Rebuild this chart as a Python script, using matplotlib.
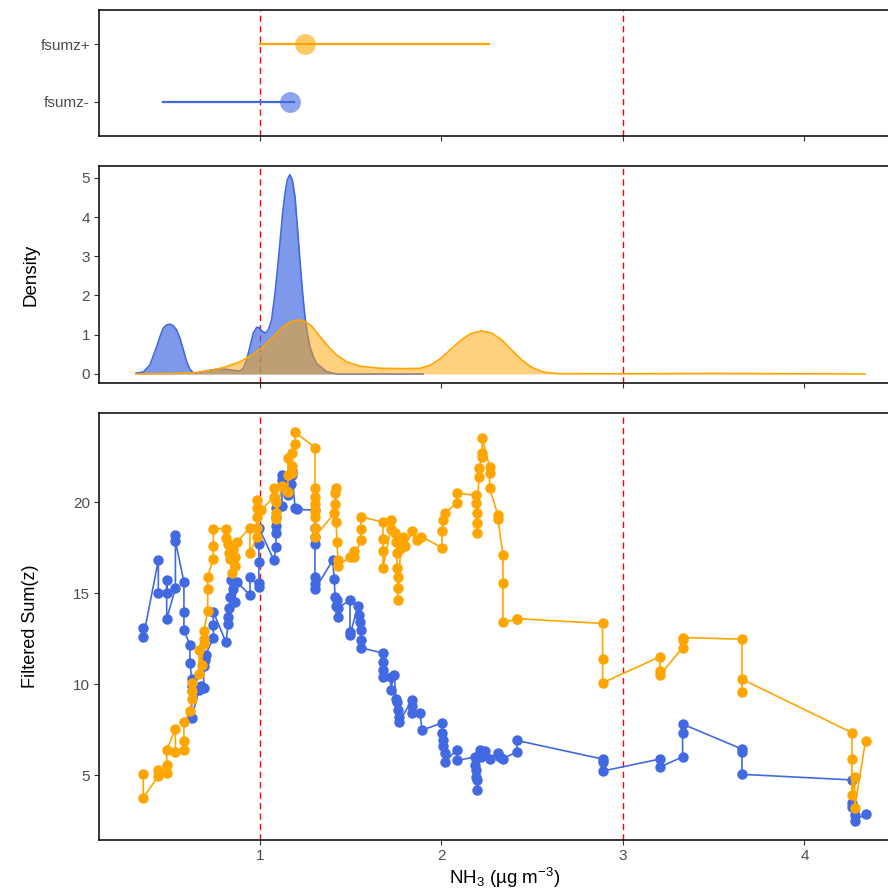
import matplotlib
matplotlib.use("Agg")
import matplotlib.pyplot as plt

plt.rcParams['font.family'] = ['Liberation Sans', 'DejaVu Sans']
plt.rcParams['mathtext.fontset'] = 'custom'
plt.rcParams['mathtext.rm'] = 'Liberation Sans'
plt.rcParams['mathtext.it'] = 'Liberation Sans:italic'

BLUE = 'royalblue'
ORANGE = 'orange'

# --- top panel: interval per group ---
groups = ['fsumz-', 'fsumz+']
group_lo = [0.466, 1.0]
group_hi = [1.19, 2.26]
group_mid = [1.165, 1.25]
group_colors = [BLUE, ORANGE]

# --- middle panel: density curves ---
dens_blue_x = [0.317, 0.357, 0.394, 0.431, 0.449, 0.467, 0.486, 0.504, 0.522, 0.541,
               0.559, 0.578, 0.596, 0.614, 0.633, 0.651, 0.706, 0.761, 0.817, 0.862,
               0.890, 0.908, 0.927, 0.945, 0.963, 0.982, 0.996, 1.009, 1.028, 1.046,
               1.064, 1.083, 1.096, 1.110, 1.125, 1.138, 1.151, 1.165, 1.178, 1.193,
               1.206, 1.220, 1.235, 1.248, 1.261, 1.275, 1.294, 1.312, 1.367, 1.423,
               1.9]
dens_blue_y = [0.02, 0.05, 0.23, 0.70, 0.95, 1.17, 1.25, 1.27, 1.23, 1.12,
               0.91, 0.61, 0.31, 0.12, 0.03, 0.02, 0.08, 0.12, 0.12, 0.085,
               0.08, 0.14, 0.36, 0.70, 1.04, 1.19, 1.18, 1.10, 1.04, 1.12,
               1.38, 2.06, 2.65, 3.33, 4.10, 4.61, 4.95, 5.08, 4.95, 4.52,
               3.76, 2.91, 2.06, 1.46, 1.04, 0.70, 0.44, 0.27, 0.06, 0.0,
               0.0]
dens_orange_x = [0.317, 0.504, 0.633, 0.743, 0.817, 0.890, 0.963, 1.018, 1.073, 1.119,
                 1.165, 1.211, 1.248, 1.285, 1.331, 1.376, 1.423, 1.478, 1.551, 1.661,
                 1.790, 1.882, 1.937, 1.992, 2.047, 2.102, 2.157, 2.221, 2.277, 2.332,
                 2.387, 2.442, 2.497, 2.561, 2.635, 3.0, 3.5, 4.0, 4.333]
dens_orange_y = [0.0, 0.01, 0.03, 0.10, 0.19, 0.31, 0.50, 0.70, 0.95, 1.17,
                 1.32, 1.38, 1.34, 1.22, 0.95, 0.70, 0.48, 0.31, 0.20, 0.145,
                 0.136, 0.145, 0.22, 0.38, 0.61, 0.84, 1.02, 1.10, 1.04, 0.87,
                 0.61, 0.36, 0.17, 0.05, 0.01, 0.005, 0.015, 0.005, 0.0]

# --- bottom panel: filtered sum(z) vs NH3 ---
blue_x = [0.357, 0.357, 0.44, 0.44, 0.486, 0.486, 0.486, 0.534, 0.534, 0.534,
          0.581, 0.581, 0.581, 0.614, 0.614, 0.624, 0.624, 0.624, 0.624,
          0.664, 0.67, 0.675, 0.69, 0.69, 0.695, 0.70,
          0.743, 0.743, 0.743, 0.813,
          0.824, 0.824, 0.83, 0.835, 0.84, 0.85, 0.86, 0.873,
          0.945, 0.945, 0.994, 0.994, 0.994, 0.994, 0.994,
          1.077, 1.088, 1.088, 1.088, 1.088, 1.088,
          1.121, 1.121, 1.121, 1.154, 1.154, 1.17, 1.176, 1.176, 1.193, 1.204,
          1.303, 1.303, 1.303, 1.303, 1.303, 1.303, 1.303,
          1.40, 1.41, 1.413, 1.42, 1.424, 1.43, 1.43,
          1.496, 1.496, 1.496,
          1.54, 1.545, 1.55, 1.556, 1.556, 1.556,
          1.678, 1.678, 1.678, 1.678,
          1.72, 1.72, 1.74, 1.75, 1.755, 1.76, 1.766, 1.766,
          1.837, 1.837, 1.837, 1.882, 1.893,
          2.003, 2.003, 2.01, 2.01, 2.019, 2.019,
          2.085, 2.085,
          2.185, 2.185, 2.19, 2.19, 2.196, 2.196,
          2.212, 2.22, 2.24, 2.267, 2.311, 2.325, 2.339,
          2.416, 2.416, 2.888, 2.888, 2.888, 3.204, 3.204,
          3.329, 3.329, 3.329, 3.656, 3.656, 3.656,
          4.262, 4.262, 4.262, 4.277, 4.277, 4.337]
blue_y = [13.06, 12.57, 16.8, 14.98, 14.98, 15.7, 13.57, 15.26, 18.19, 17.87,
          15.62, 13.97, 12.97, 12.14, 11.15, 10.3, 9.9, 9.6, 8.13,
          9.7, 9.8, 9.9, 9.8, 11.0, 11.3, 11.6,
          12.53, 13.24, 13.97, 12.3,
          13.3, 13.7, 14.2, 14.8, 15.7, 15.2, 14.5, 15.6,
          14.9, 15.9, 15.35, 15.55, 16.7, 17.7, 18.6,
          16.8, 17.55, 18.3, 18.7, 19.2, 19.7,
          19.8, 21.2, 21.5, 20.66, 20.4, 21.0, 21.5, 21.7, 19.7, 19.6,
          19.56, 18.6, 18.1, 17.7, 15.9, 15.5, 15.2,
          16.8, 15.8, 14.8, 14.3, 14.6, 13.7, 14.2,
          14.6, 12.85, 12.7,
          14.3, 13.8, 13.4, 13.0, 12.4, 12.0,
          11.7, 11.2, 10.8, 10.4,
          10.4, 9.7, 10.5, 9.2, 9.0, 8.6, 8.2, 7.9,
          9.1, 8.8, 8.4, 8.4, 7.47,
          7.86, 7.3, 6.9, 6.6, 6.2, 5.7,
          6.4, 5.8,
          6.0, 5.55, 5.27, 4.9, 4.73, 4.18,
          6.4, 6.0, 6.3, 5.9, 6.2, 6.0, 5.9,
          6.28, 6.9, 5.88, 5.7, 5.22, 5.88, 5.44,
          6.0, 7.32, 7.8, 6.43, 6.26, 5.04,
          4.73, 3.46, 3.24, 2.8, 2.5, 2.85]

orange_x = [0.357, 0.357, 0.44, 0.44, 0.486, 0.486, 0.486, 0.534, 0.534,
            0.581, 0.581, 0.581, 0.614, 0.624, 0.624, 0.624,
            0.664, 0.664, 0.678, 0.69, 0.69, 0.69,
            0.712, 0.712, 0.712, 0.743, 0.743, 0.743, 0.813, 0.813,
            0.824, 0.83, 0.835, 0.845, 0.851, 0.86, 0.865, 0.873,
            0.945, 0.945, 0.982, 0.982, 0.982, 0.982, 0.982, 1.006,
            1.077, 1.077, 1.088, 1.088, 1.088, 1.121,
            1.154, 1.154, 1.154, 1.176, 1.176, 1.176, 1.193, 1.193,
            1.303, 1.303, 1.303, 1.303, 1.303, 1.303, 1.303, 1.303,
            1.41, 1.413, 1.413, 1.418, 1.42, 1.424, 1.43, 1.43,
            1.496, 1.52, 1.52, 1.556, 1.556, 1.556,
            1.678, 1.678, 1.678, 1.678, 1.72, 1.72,
            1.745, 1.75, 1.755, 1.755, 1.758, 1.758, 1.76,
            1.775, 1.79, 1.8, 1.84, 1.865, 1.89,
            2.003, 2.003, 2.01, 2.019, 2.085, 2.085,
            2.19, 2.19, 2.196, 2.196, 2.196, 2.206, 2.206,
            2.225, 2.225, 2.225, 2.265, 2.265, 2.265,
            2.311, 2.311, 2.339, 2.339, 2.339, 2.416, 2.416,
            2.888, 2.888, 2.888, 3.204, 3.204, 3.204,
            3.329, 3.329, 3.329, 3.656, 3.656, 3.656,
            4.262, 4.262, 4.262, 4.277, 4.277, 4.337]
orange_y = [5.05, 3.75, 4.95, 5.3, 5.1, 5.55, 6.37, 7.53, 6.26,
            6.37, 6.87, 7.9, 8.52, 9.2, 9.6, 10.05,
            10.55, 11.87, 11.04, 12.2, 12.5, 12.9,
            14.0, 15.2, 15.9, 16.9, 17.6, 18.55, 18.55, 18.05,
            17.7, 17.2, 16.9, 16.1, 17.4, 17.0, 16.5, 17.8,
            18.6, 17.2, 18.1, 18.6, 19.2, 19.7, 20.1, 19.55,
            20.3, 20.8, 20.0, 19.4, 19.1, 20.9,
            20.55, 21.5, 22.4, 21.6, 22.0, 22.7, 23.2, 23.85,
            23.0, 20.8, 20.3, 19.9, 19.5, 19.2, 18.6, 18.1,
            19.4, 19.9, 20.5, 20.8, 18.9, 17.8, 16.8, 16.5,
            17.0, 17.3, 17.0, 17.9, 18.5, 19.2,
            18.9, 18.0, 17.3, 16.4, 18.5, 19.0,
            18.3, 17.8, 17.2, 16.4, 15.9, 15.3, 14.6,
            17.5, 18.1, 17.6, 18.4, 17.9, 18.1,
            17.5, 18.4, 19.0, 19.4, 19.95, 20.5,
            20.38, 19.95, 19.4, 18.85, 18.3, 21.4, 21.9,
            22.5, 22.7, 23.5, 21.95, 21.6, 20.8,
            19.3, 19.1, 17.1, 15.55, 13.4, 13.55, 13.6,
            13.33, 11.37, 10.07, 11.5, 10.7, 10.5,
            12.0, 12.4, 12.55, 12.47, 9.58, 10.27,
            7.33, 5.88, 3.9, 4.9, 3.19, 6.87]

FIG_W, FIG_H = 888, 894
fig = plt.figure(figsize=(FIG_W / 100, FIG_H / 100), dpi=100)
left, width = 99 / FIG_W, 807 / FIG_W
ax_top = fig.add_axes([left, 1 - 136 / FIG_H, width, 126 / FIG_H])
ax_mid = fig.add_axes([left, 1 - 383 / FIG_H, width, 217 / FIG_H], sharex=ax_top)
ax_bot = fig.add_axes([left, 1 - 840 / FIG_H, width, 427 / FIG_H], sharex=ax_top)

for ax in (ax_top, ax_mid, ax_bot):
	for sp in ax.spines.values():
		sp.set_color('black')
		sp.set_linewidth(1.1)
	ax.tick_params(length=3.5, width=0.8, color='#333333', labelcolor='#4D4D4D',
	               labelsize=11, pad=3)
	for xv in (1, 3):
		ax.axvline(xv, color='red', ls=(0, (4.5, 3)), lw=1, zorder=1)

# top
for i, (lo, hi, mid, c) in enumerate(zip(group_lo, group_hi, group_mid, group_colors)):
	pos = i + 1
	ax_top.plot([lo, hi], [pos, pos], color=c, lw=1.6, zorder=2)
	ax_top.plot([mid], [pos], 'o', color=c, ms=15, alpha=0.6, mec='none', zorder=3)
ax_top.set_yticks([1, 2])
ax_top.set_yticklabels(groups)
ax_top.set_ylim(0.4, 2.6)
ax_top.tick_params(labelbottom=False)

# middle
ax_mid.fill_between(dens_blue_x, dens_blue_y, color=BLUE, alpha=0.68, lw=0, zorder=2)
ax_mid.plot(dens_blue_x, dens_blue_y, color=BLUE, lw=1.2, zorder=2)
ax_mid.fill_between(dens_orange_x, dens_orange_y, color=ORANGE, alpha=0.5, lw=0, zorder=3)
ax_mid.plot(dens_orange_x, dens_orange_y, color=ORANGE, lw=1.2, zorder=3)
ax_mid.set_ylim(-0.23, 5.3)
ax_mid.set_yticks([0, 1, 2, 3, 4, 5])
ax_mid.set_ylabel('Density', fontsize=13.5)
ax_mid.yaxis.set_label_coords(-0.074, 0.5)
ax_mid.tick_params(labelbottom=False)

# bottom
ax_bot.plot(blue_x, blue_y, '-o', color=BLUE, lw=1.2, ms=6.5, zorder=2)
ax_bot.plot(orange_x, orange_y, '-o', color=ORANGE, lw=1.2, ms=6.5, zorder=3)
ax_bot.set_ylim(1.43, 24.9)
ax_bot.set_yticks([5, 10, 15, 20])
ax_bot.set_ylabel('Filtered Sum(z)', fontsize=13)
ax_bot.yaxis.set_label_coords(-0.074, 0.5)
ax_bot.set_xlabel('NH$_3$ (µg m$^{-3}$)', fontsize=13.5)
ax_bot.xaxis.set_label_coords(0.503, -0.06)

ax_bot.set_xlim(0.113, 4.56)
ax_bot.set_xticks([1, 2, 3, 4])

fig.savefig('out.png', dpi=100)
